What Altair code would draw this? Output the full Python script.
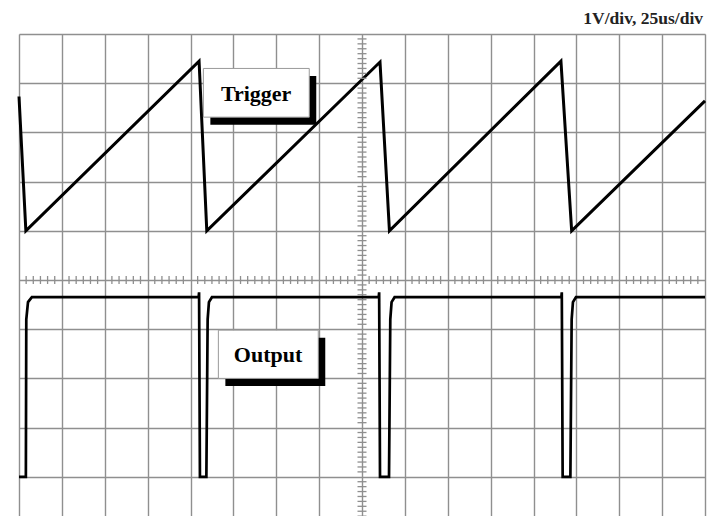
import altair as alt
import pandas as pd

# ---- waveform data (grid divisions: x 0..16, y 0..10 from bottom) ----
trig_x = [0.00, 0.16, 4.20, 4.38, 8.42, 8.64, 12.64, 12.89, 16.00]
trig_y = [8.73, 6.00, 9.45, 6.00, 9.43, 6.00, 9.45, 6.00, 8.64]

out_x = [0.00, 0.16, 0.17, 0.21, 0.30,
         4.19, 4.20, 4.22, 4.37, 4.40, 4.43, 4.50,
         8.39, 8.40, 8.42, 8.63, 8.66, 8.69, 8.76,
         12.65, 12.66, 12.68, 12.86, 12.89, 12.92, 12.99,
         16.00]
out_y = [1.00, 1.00, 4.20, 4.55, 4.65,
         4.65, 4.75, 1.00, 1.00, 4.20, 4.55, 4.65,
         4.65, 4.75, 1.00, 1.00, 4.20, 4.55, 4.65,
         4.65, 4.75, 1.00, 1.00, 4.20, 4.55, 4.65,
         4.65]

# ---- annotation data ----
label_text = ["Trigger", "Output"]
label_x = [5.53, 5.81]
label_y = [8.78, 3.48]
box_left = [4.30, 4.65]
box_right = [6.77, 6.98]
box_bottom = [8.31, 3.00]
box_top = [9.30, 3.98]
scale_text = ["1V/div, 25us/div"]

# grid description
x_major = list(range(0, 17))
y_major = list(range(0, 11))
x_minor = [i / 6 for i in range(0, 16 * 6 + 1) if i % 6 != 0]
y_minor = [i / 10 for i in range(0, 10 * 10 + 1) if i % 10 != 0]

PX_X = 42.875
PX_Y = 49.2
H = 482
Y_MIN = 10 - H / PX_Y
SHADOW_DX = 7 / PX_X
SHADOW_DY = 7.5 / PX_Y

trig = pd.DataFrame({"x": trig_x, "y": trig_y, "i": range(len(trig_x))})
outp = pd.DataFrame({"x": out_x, "y": out_y, "i": range(len(out_x))})
labels = pd.DataFrame({
    "t": label_text, "x": label_x, "y": label_y,
    "x1": box_left, "x2": box_right, "y1": box_bottom, "y2": box_top,
})
labels["sx1"] = labels["x1"] + SHADOW_DX
labels["sx2"] = labels["x2"] + SHADOW_DX
labels["sy1"] = labels["y1"] - SHADOW_DY
labels["sy2"] = labels["y2"] - SHADOW_DY

hminor = pd.DataFrame({"x": x_minor, "y": [5] * len(x_minor)})
vminor = pd.DataFrame({"y": y_minor, "x": [8] * len(y_minor)})

GRID = "#8f8f8f"

xs = alt.Scale(domain=[0, 16], nice=False, zero=False)
ys = alt.Scale(domain=[Y_MIN, 10], nice=False, zero=False)
xa = alt.Axis(values=x_major, grid=True, labels=False, ticks=False,
              domain=False, title=None, gridColor=GRID, gridWidth=1.4,
              gridOpacity=1)
ya = alt.Axis(values=y_major, grid=True, labels=False, ticks=False,
              domain=False, title=None, gridColor=GRID, gridWidth=1.4,
              gridOpacity=1)


def X(f):
    return alt.X(f, scale=xs, axis=xa)


def Y(f):
    return alt.Y(f, scale=ys, axis=ya)


trig_layer = alt.Chart(trig).mark_line(color="black", strokeWidth=3).encode(
    x=X("x:Q"), y=Y("y:Q"), order="i:Q",
)

out_layer = alt.Chart(outp).mark_line(color="black", strokeWidth=2.7).encode(
    x=X("x:Q"), y=Y("y:Q"), order="i:Q",
)

hticks = alt.Chart(hminor).mark_tick(orient="vertical", size=8, thickness=1.3,
                                     color=GRID, opacity=1).encode(
    x=X("x:Q"), y=Y("y:Q"),
)
vticks = alt.Chart(vminor).mark_tick(orient="horizontal", size=9, thickness=1.3,
                                     color=GRID, opacity=1).encode(
    x=X("x:Q"), y=Y("y:Q"),
)

shadow = alt.Chart(labels).mark_rect(color="black").encode(
    x=X("sx1:Q"), x2="sx2:Q", y=Y("sy1:Q"), y2="sy2:Q",
)
box = alt.Chart(labels).mark_rect(fill="white", stroke="#9a9a9a", strokeWidth=1).encode(
    x=X("x1:Q"), x2="x2:Q", y=Y("y1:Q"), y2="y2:Q",
)
text = alt.Chart(labels).mark_text(font="Liberation Serif", fontWeight="bold",
                                   fontSize=22, color="black",
                                   align="center", baseline="middle").encode(
    x=X("x:Q"), y=Y("y:Q"), text="t:N",
)

scale_label = alt.Chart(pd.DataFrame({"t": scale_text})).mark_text(
    font="Liberation Serif", fontWeight="bold", fontSize=17.5, color="#222222",
    align="right", baseline="alphabetic").encode(
    x=alt.value(684), y=alt.value(-10), text="t:N")

chart = alt.layer(
    trig_layer, out_layer, hticks, vticks, shadow, box, text, scale_label
).resolve_axis(x="shared", y="shared").properties(
    width=686, height=H,
    padding={"left": 11, "top": 26, "right": 4, "bottom": 0},
    autosize="none",
).configure_view(strokeWidth=0).configure(background="white")

chart.save("out.html", embed_options={"renderer": "svg", "actions": False})
